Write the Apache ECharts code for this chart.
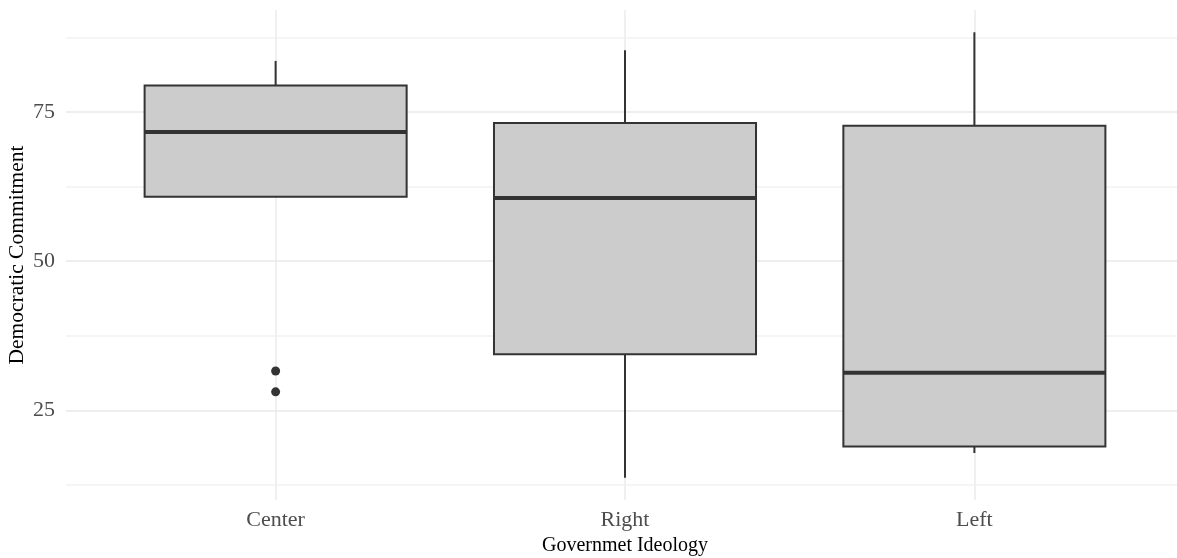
<!DOCTYPE html>
<html>
<head>
<meta charset="utf-8">
<script src="https://cdn.jsdelivr.net/npm/echarts@6/dist/echarts.min.js"></script>
<style>
  html, body { margin: 0; padding: 0; background: #ffffff; }
  #chart { width: 1177px; height: 558px; }
</style>
</head>
<body>
<div id="chart"></div>
<script>
// ---- data ----
const categories   = ['Center', 'Right', 'Left'];
const whiskerLow   = [60.8, 13.7, 17.85];
const lowerQuart   = [60.8, 34.4, 18.95];
const medians      = [71.65, 60.6, 31.3];
const upperQuart   = [79.45, 73.15, 72.7];
const whiskerHigh  = [83.55, 85.35, 88.35];
const outlierCat   = [0, 0];
const outlierVal   = [31.6, 28.1];
const yTickLabels  = [25, 50, 75];
const yGridValues  = [12.5, 25, 37.5, 50, 62.5, 75, 87.5];

const boxData = categories.map((c, i) => [i, whiskerLow[i], lowerQuart[i], medians[i], upperQuart[i], whiskerHigh[i]]);
const outlierData = outlierCat.map((c, i) => [c, outlierVal[i]]);

const FONT = 'Liberation Serif';
const INK = '#333333';

function renderBox(params, api) {
  const x = api.value(0);
  const pHi = api.coord([x, api.value(5)]);
  const pQ3 = api.coord([x, api.value(4)]);
  const pMed = api.coord([x, api.value(3)]);
  const pQ1 = api.coord([x, api.value(2)]);
  const pLo = api.coord([x, api.value(1)]);
  const w = api.size([1, 0])[0] * 0.75;
  const cx = pMed[0];
  const lineStyle = { stroke: INK, lineWidth: 2 };
  return {
    type: 'group',
    children: [
      { type: 'line', shape: { x1: cx, y1: pHi[1], x2: cx, y2: pQ3[1] }, style: lineStyle },
      { type: 'line', shape: { x1: cx, y1: pQ1[1], x2: cx, y2: pLo[1] }, style: lineStyle },
      { type: 'rect', shape: { x: cx - w / 2, y: pQ3[1], width: w, height: pQ1[1] - pQ3[1] },
        style: { fill: '#CCCCCC', stroke: INK, lineWidth: 2 } },
      { type: 'line', shape: { x1: cx - w / 2, y1: pMed[1], x2: cx + w / 2, y2: pMed[1] },
        style: { stroke: INK, lineWidth: 4 } }
    ]
  };
}

const chart = echarts.init(document.getElementById('chart'), null, { renderer: 'canvas' });
chart.setOption({
  backgroundColor: '#ffffff',
  animation: false,
  grid: { left: 66, right: -7, top: 10, bottom: 58, outerBoundsMode: 'none', containLabel: false },
  xAxis: {
    type: 'value',
    min: -0.6, max: 2.6,
    name: 'Governmet Ideology',
    nameLocation: 'middle',
    nameGap: 36,
    nameTextStyle: { fontFamily: FONT, fontSize: 20, color: '#000000' },
    axisLine: { show: false },
    axisTick: { show: false, customValues: [0, 1, 2] },
    axisLabel: {
      customValues: [0, 1, 2],
      formatter: v => categories[Math.round(v)],
      fontFamily: FONT, fontSize: 22, color: '#4D4D4D', margin: 9
    },
    splitLine: { show: true, lineStyle: { color: '#EBEBEB', width: 1.5 } }
  },
  yAxis: {
    type: 'value',
    min: 9.98, max: 92.08,
    name: 'Democratic Commitment',
    nameLocation: 'middle',
    nameGap: 38,
    nameMoveOverlap: false,
    nameRotate: 90,
    nameTextStyle: { fontFamily: FONT, fontSize: 21.5, color: '#000000' },
    axisLine: { show: false },
    axisTick: { show: false, customValues: yGridValues },
    axisLabel: {
      customValues: yTickLabels,
      fontFamily: FONT, fontSize: 22, color: '#4D4D4D', margin: 11
    },
    splitLine: { show: true, lineStyle: { color: ['#F2F2F2', '#E8E8E8'], width: 1.5 } }
  },
  series: [
    {
      type: 'custom',
      renderItem: renderBox,
      encode: { x: 0, y: [1, 2, 3, 4, 5] },
      data: boxData,
      z: 2
    },
    {
      type: 'scatter',
      data: outlierData,
      symbolSize: 9,
      itemStyle: { color: INK, opacity: 1 },
      z: 3
    }
  ]
});
</script>
</body>
</html>
